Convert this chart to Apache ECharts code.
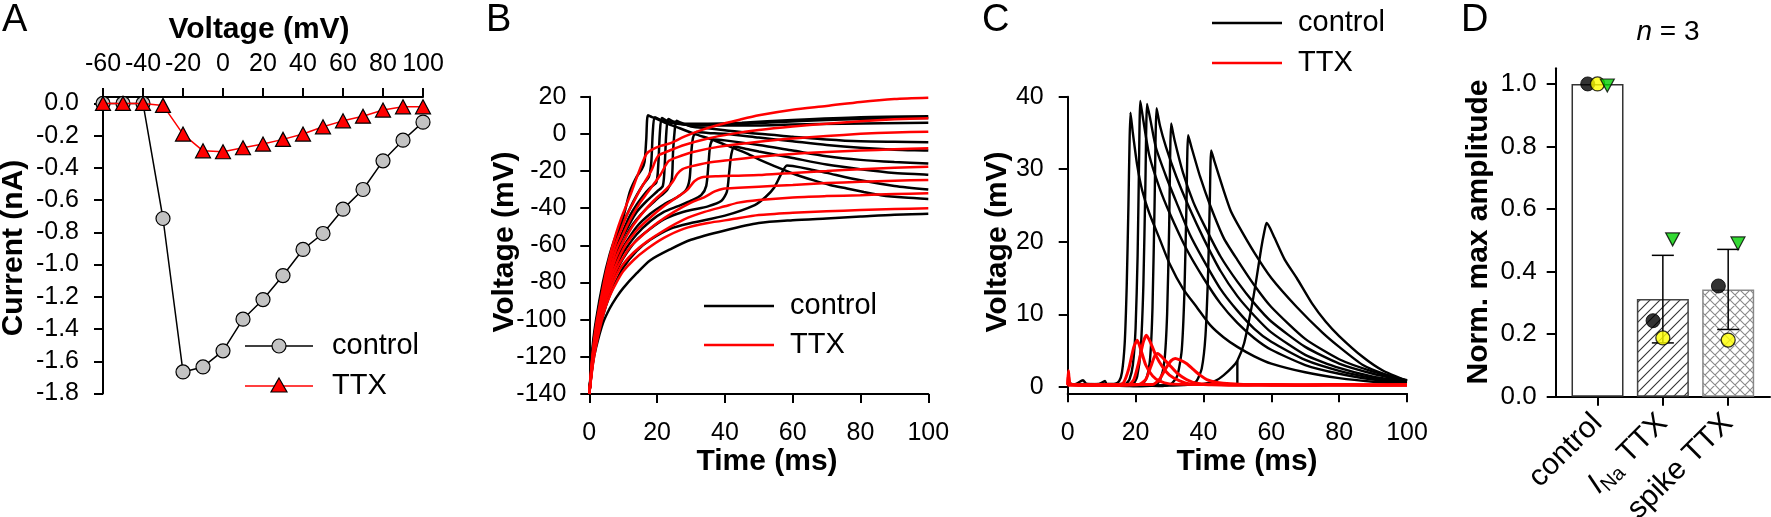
<!DOCTYPE html>
<html><head><meta charset="utf-8">
<script src="https://cdn.jsdelivr.net/npm/echarts@6/dist/echarts.min.js"></script>
<style>html,body{margin:0;padding:0;background:#fff}#c{width:1771px;height:517px}</style>
</head><body><div id="c"></div>
<script>
// ---------- Panel A data ----------
const aVoltage = [-60,-50,-40,-30,-20,-10,0,10,20,30,40,50,60,70,80,90,100];
const aControl = [0,0,0,-0.714,-1.666,-1.635,-1.535,-1.339,-1.217,-1.068,-0.906,-0.807,-0.656,-0.534,-0.356,-0.228,-0.116];
const aTTX = [0,0,0,-0.012,-0.19,-0.294,-0.30,-0.275,-0.252,-0.223,-0.19,-0.145,-0.108,-0.079,-0.041,-0.021,-0.021];
const aYTicks = [0,-0.2,-0.4,-0.6,-0.8,-1.0,-1.2,-1.4,-1.6,-1.8];

// ---------- Panel B data (time ms, voltage mV) ----------
const bControl = [
 [[0,-140],[1,-114],[2,-100],[4,-80],[6,-65],[8,-54],[10,-45],[12,-31],[14,-23],[15.5,-19],[16.3,-15],[16.8,-3],[17.3,10],[18.5,9],[20,8],[23,5.5],[26.7,3],[31,0],[36.6,-3.3],[41,-6.5],[46.4,-10.5],[51,-14.5],[56.3,-18.6],[61,-22],[66,-24.9],[71,-27.5],[76,-29.4],[81,-31.3],[86,-33],[93,-34.3],[100,-35]],
 [[0,-140],[1,-116],[2,-102],[4,-82],[6,-68],[8,-57],[10,-48],[12,-40],[14,-33],[16,-27],[17.6,-23],[18.3,-15],[18.7,0],[19.3,9],[21,7.5],[24,6],[28,5.5],[35,5.5],[45,6],[60,7.5],[80,9],[100,9.5]],
 [[0,-140],[1,-117],[2,-104],[4,-84],[6,-71],[8,-61],[10,-52],[12,-44],[14,-38],[16,-33],[18,-29],[19.8,-26],[20.4,-15],[20.8,0],[21.4,8.5],[23,7],[26,5.5],[30,5],[40,5],[55,6.3],[70,7.5],[85,8.2],[100,8.5]],
 [[0,-140],[1,-118],[2,-106],[4,-86],[6,-73],[8,-63],[10,-55],[12,-48],[14,-42],[17,-36],[20,-31],[21.7,-28],[22.3,-15],[22.7,0],[23.3,8],[25,6.5],[28,5],[32,4.5],[45,4.5],[60,5],[75,5.5],[100,6]],
 [[0,-140],[1,-119],[2,-107],[4,-88],[6,-75],[8,-65],[10,-58],[12,-51],[14,-46],[17,-40],[20,-35],[23,-30],[24.3,-25],[24.7,-10],[25.1,0],[25.7,7],[27,6],[30,4],[35,3],[40,2],[50,0],[60,-1.5],[70,-3],[80,-4],[90,-4.3],[100,-4.5]],
 [[0,-140],[1,-120],[2,-109],[4,-90],[6,-78],[8,-68],[10,-61],[14,-50],[18,-43],[22,-38],[26,-34],[28.6,-30],[29.6,-24],[30.1,-10],[30.6,-2],[31.6,1],[35,0.5],[40,0],[50,-2],[60,-4],[70,-6],[80,-7.5],[90,-8.5],[100,-9]],
 [[0,-140],[1,-121],[2,-110],[4,-92],[6,-80],[8,-71],[10,-64],[14,-54],[18,-47],[22,-42],[26,-39],[30,-36],[33,-33],[34.5,-28],[35.2,-15],[35.7,-6],[36.6,-3],[40,-3.5],[50,-6],[60,-9],[70,-12],[80,-14],[90,-15.2],[100,-16]],
 [[0,-140],[1,-122],[2,-111],[4,-95],[6,-83],[8,-74],[10,-67],[14,-57],[18,-51],[22,-46],[26,-43],[30,-41],[35,-39],[39,-36],[40.6,-31],[41.3,-20],[41.9,-11],[42.8,-7],[46,-8],[50,-9.5],[60,-13],[70,-16.5],[80,-19],[90,-21],[100,-22]],
 [[0,-140],[1,-123],[2,-113],[4,-98],[6,-87],[8,-79],[10,-72],[14,-63],[18,-57],[24,-51],[30,-48],[40,-44],[48.8,-38.3],[52,-34],[54.5,-29],[56.5,-22],[58.3,-17],[60,-17.3],[65,-19],[70,-21],[80,-25],[90,-28],[100,-30]],
 [[0,-140],[1,-124],[2,-115],[4,-102],[6,-94],[8,-88],[10,-83],[14,-75],[18,-68],[24,-62],[30,-57],[40,-52],[50,-48],[60,-46.5],[70,-45.5],[80,-44.5],[90,-43.5],[100,-43]]
];
const bTTX = [
 [[0,-140],[1,-118],[2,-103],[3.6,-87],[5,-74],[6.6,-62],[8,-53],[9.5,-45],[11,-38],[12.5,-31],[14.5,-21],[16,-14],[17,-10.5],[18.5,-8.5],[21,-6.5],[24,-5],[28,-1.5],[33,2],[38,4.8],[44,7.5],[50,10],[60,13],[70,15],[80,17.2],[90,18.8],[100,19.5]],
 [[0,-140],[1,-119],[2,-105],[3.6,-89],[5,-77],[6.6,-66],[8,-58],[9.5,-51],[11,-44],[13,-37],[15,-30],[17,-24],[18.5,-19],[19.5,-14.5],[20.5,-11.5],[23,-9.5],[28,-6],[35,-2.5],[42,0],[50,2.1],[60,4],[70,5.5],[80,6.8],[90,7.8],[100,8.4]],
 [[0,-140],[1,-120],[2,-107],[3.6,-91],[5,-80],[6.6,-70],[8,-62],[9.5,-56],[11,-50],[13,-43],[15,-37],[17,-32],[19,-27],[21,-22],[22.5,-17],[23.5,-14.5],[26,-12.5],[30,-10],[38,-7],[50,-4.2],[60,-2.5],[70,-1.2],[80,0],[90,0.8],[100,1.2]],
 [[0,-140],[1,-121],[2,-108],[3.6,-93],[5,-82],[6.6,-73],[8,-66],[9.5,-60],[11,-55],[13,-49],[16,-42],[19,-36],[22,-31],[24.5,-26],[26,-21.5],[27.5,-19],[30,-17.5],[35,-15.5],[42,-14],[50,-12.3],[60,-10.8],[70,-9.8],[80,-9],[90,-8.3],[100,-7.8]],
 [[0,-140],[1,-122],[2,-110],[3.6,-95],[5,-85],[6.6,-76],[8,-70],[9.5,-64],[11,-59],[14,-52],[18,-45],[22,-39],[26,-34],[29,-30],[31,-25.5],[33,-23.5],[38,-22.8],[44,-22.5],[50,-22.2],[60,-21],[70,-20],[80,-19],[90,-18.2],[100,-17.7]],
 [[0,-140],[1,-123],[2,-111],[3.6,-97],[5,-87],[6.6,-79],[8,-73],[9.5,-68],[12,-61],[16,-54],[20,-48],[25,-42],[30,-37],[34,-34],[37,-31],[39.5,-29.5],[44,-29],[50,-28.4],[60,-27.5],[70,-26.5],[80,-25.8],[90,-25.2],[100,-24.8]],
 [[0,-140],[1,-124],[2,-112],[3.6,-99],[5,-89],[6.6,-82],[8,-76],[10,-70],[13,-64],[17,-58],[22,-52],[28,-46],[34,-42],[40,-39],[44,-37],[50,-35.6],[60,-34.2],[70,-33.5],[80,-33],[90,-32.4],[100,-32]],
 [[0,-140],[1,-125],[2,-114],[3.6,-101],[5,-92],[6.6,-85],[8,-80],[10,-74],[13,-68],[17,-62],[22,-56],[28,-51],[35,-48],[42,-46],[50,-43.7],[60,-42.5],[70,-41.7],[80,-41],[90,-40.5],[100,-40.1]]
];

// ---------- Panel C data ----------
const cControl = [
 [[0,0.5],[2,0.3],[4.5,0.9],[5.5,0.4],[9,0.3],[11,0.8],[11.5,0.3],[14,0.4],[15.2,0.8],[16,2],[16.8,6],[17.4,14],[17.9,25],[18.2,33],[18.5,37.8],[19.2,35],[20.5,30.5],[22,27],[24,24],[27,20.5],[30,17],[34,13.5],[38,11],[42,8.5],[46,6.8],[50,5.5],[55,4.2],[60,3.2],[70,2],[80,1.2],[90,0.7],[100,0.4]],
 [[0,0.3],[3,0.4],[7,0.2],[12,0.4],[17,0.4],[18.2,1],[19.2,3],[20,8],[20.6,18],[21,30],[21.4,39.4],[22.2,37],[24,32],[27,27.5],[30,24],[35,19],[40,15],[45,11.5],[50,8.8],[55,6.7],[60,5.1],[70,3],[80,1.8],[90,1],[100,0.5]],
 [[0,0.4],[5,0.3],[10,0.4],[15,0.3],[19.5,0.5],[20.5,1.5],[21.5,5],[22.3,14],[22.9,28],[23.4,39],[24.3,37],[26,33],[29,29],[32,25.5],[36,21],[40,17.5],[45,13.5],[50,10.5],[55,8],[60,6.2],[70,3.7],[80,2.2],[90,1.2],[100,0.6]],
 [[0,0.3],[6,0.4],[12,0.3],[18,0.3],[22,0.4],[23.3,1.3],[24.3,4],[25,11],[25.6,25],[26.2,38.4],[27.2,36],[29,33],[32,29],[36,24.5],[40,20.5],[45,16],[50,12.5],[55,9.8],[60,7.5],[70,4.4],[80,2.6],[90,1.4],[100,0.7]],
 [[0,0.4],[8,0.3],[15,0.3],[22,0.2],[26,0.3],[27.3,1],[28.5,3.5],[29.3,10],[29.9,22],[30.5,36.3],[31.5,34],[34,29.5],[37,25.5],[40,22.5],[45,18],[50,14.5],[55,11.5],[60,9],[70,5.5],[80,3.2],[90,1.8],[100,0.8]],
 [[0,0.3],[10,0.4],[20,0.2],[28,0.1],[30.5,0.4],[32.3,1.5],[33.6,5],[34.4,13],[35,25],[35.5,34.7],[36.5,33],[39,29],[42,25],[46,20.5],[50,17.5],[55,14],[60,11],[70,6.6],[80,3.8],[90,2.1],[100,0.9]],
 [[0,0.3],[10,0.3],[20,0.1],[30,0.2],[36,0.3],[38,0.8],[39.5,2.5],[40.6,7],[41.4,16],[41.9,26],[42.3,32.6],[43.3,31],[46,27],[48,24.3],[50,22.5],[55,18.5],[60,15],[67.5,11],[75,7.5],[80,5.5],[87,3],[93,1.8],[100,0.8]],
 [[0,0.3],[10,0.2],[20,0.1],[30,0.2],[40,0.4],[43.5,0.8],[46,1.6],[48.5,2.7],[50,3.6],[52,6],[54,10.5],[55.5,14.5],[57,19],[58,21.5],[58.6,22.6],[59.5,22],[61,20.5],[64,17.5],[67.5,15],[72,11.5],[76,9],[80,7],[87,4.1],[93,2.2],[100,0.8]],
 [[50,0.2],[50,3.6]]
];
const cTTX = [
 [[0,0.3],[0.2,2.2],[0.8,0.4],[5,0.2],[10,0.3],[15,0.2],[16.5,0.6],[18,2.5],[19.5,5.5],[20.5,6.4],[21.5,5.2],[23,3],[25,1.5],[27,0.8],[30,0.4],[40,0.3],[50,0.2],[60,0.3],[70,0.2],[80,0.3],[90,0.2],[100,0.3]],
 [[0,0.2],[0.2,1.6],[0.8,0.3],[10,0.2],[18,0.3],[19.5,1],[21,3.5],[22.3,6.2],[23.2,7.1],[24.5,6],[26,4.3],[28,2.7],[30,1.6],[33,0.8],[36,0.4],[45,0.3],[60,0.2],[80,0.3],[100,0.2]],
 [[0,0.3],[10,0.2],[21,0.3],[23,1],[24.5,2.8],[25.7,4.3],[26.5,4.6],[28,4],[30,3],[32,2],[35,1],[38,0.5],[45,0.3],[60,0.3],[80,0.2],[100,0.3]],
 [[0,0.2],[10,0.3],[25,0.3],[27,1],[29,2.6],[30.5,3.6],[31.7,3.9],[33,3.7],[35,3.2],[37,2.4],[39,1.6],[41,1],[44,0.6],[48,0.4],[60,0.2],[80,0.3],[100,0.2]]
];
const cYTicks = [0,10,20,30,40];

// ---------- Panel D data ----------
const dCategories = ['control','{it|I}{sub|Na} TTX','spike TTX'];
const dMeans = [1.0, 0.312, 0.343];
const dSD = [0, 0.14, 0.128];
const dBlack = [1.0, 0.243, 0.354];
const dYellow = [1.0, 0.188, 0.181];
const dGreen = [0.995, 0.503, 0.49];
const dYTicks = [0,0.2,0.4,0.6,0.8,1.0];

// ---------- helpers ----------
const FONT = '"Liberation Sans", Arial, Helvetica, sans-serif';
function merge(a,b){const o=Array.isArray(a)?a.slice():Object.assign({},a);for(const k in b){if(b[k]&&typeof b[k]==='object'&&!Array.isArray(b[k])&&a[k]&&typeof a[k]==='object'&&!Array.isArray(a[k]))o[k]=merge(a[k],b[k]);else o[k]=b[k];}return o;}
function axis(opts){
  return merge({
    type:'value',
    axisLine:{show:true,onZero:false,lineStyle:{color:'#000',width:2}},
    axisTick:{show:true,inside:false,length:9,lineStyle:{color:'#000',width:2}},
    axisLabel:{color:'#000',fontSize:25,fontFamily:FONT,margin:22,hideOverlap:false},
    splitLine:{show:false}
  },opts);
}
function hatch(cross){
  const c=document.createElement('canvas');c.width=10;c.height=10;
  const g=c.getContext('2d');g.fillStyle='#fff';g.fillRect(0,0,10,10);
  g.strokeStyle=cross?'#8a8a8a':'#333';g.lineWidth=1.1;g.beginPath();
  g.moveTo(-2,12);g.lineTo(12,-2);g.moveTo(-7,7);g.lineTo(7,-7);g.moveTo(3,17);g.lineTo(17,3);
  if(cross){g.moveTo(-2,-2);g.lineTo(12,12);g.moveTo(-7,3);g.lineTo(7,17);g.moveTo(3,-7);g.lineTo(17,7);}
  g.stroke();return c;
}
const jitter = 0.15;

const chart = echarts.init(document.getElementById('c'), null, {renderer:'canvas'});

const series = [];
// Panel A
series.push({type:'line',xAxisIndex:0,yAxisIndex:0,data:aVoltage.map((v,i)=>[v,aControl[i]]),clip:false,
  symbol:'circle',symbolSize:14,itemStyle:{color:'#c3c3c3',borderColor:'#000',borderWidth:1.2},
  lineStyle:{color:'#000',width:1.5},z:3});
series.push({type:'line',xAxisIndex:0,yAxisIndex:0,data:aVoltage.map((v,i)=>[v,aTTX[i]]),clip:false,
  symbol:'triangle',symbolSize:[15,14],itemStyle:{color:'#ff0000',borderColor:'#000',borderWidth:1.2},
  lineStyle:{color:'#ff0000',width:1.5},z:4});
// Panel B
bControl.forEach(d=>series.push({type:'line',xAxisIndex:1,yAxisIndex:1,data:d,showSymbol:false,smooth:0.25,
  lineStyle:{color:'#000',width:2.5},z:2}));
bTTX.forEach(d=>series.push({type:'line',xAxisIndex:1,yAxisIndex:1,data:d,showSymbol:false,smooth:0.25,
  lineStyle:{color:'#ff0000',width:2.5},z:3}));
// Panel C
cControl.forEach(d=>series.push({type:'line',xAxisIndex:2,yAxisIndex:2,data:d,showSymbol:false,smooth:0.2,
  lineStyle:{color:'#000',width:2.4},z:2}));
cTTX.forEach(d=>series.push({type:'line',xAxisIndex:2,yAxisIndex:2,data:d,showSymbol:false,smooth:0.2,
  lineStyle:{color:'#ff0000',width:3},z:3}));
// Panel D
const barStyles=[
  {color:'#fff',borderColor:'#333',borderWidth:1.5},
  {color:{image:hatch(false),repeat:'repeat'},borderColor:'#444',borderWidth:1.5},
  {color:{image:hatch(true),repeat:'repeat'},borderColor:'#888',borderWidth:1.5}
];
series.push({type:'bar',xAxisIndex:3,yAxisIndex:3,barWidth:52,
  data:dMeans.map((m,i)=>({value:[i,m],itemStyle:barStyles[i]})),z:2});
series.push({type:'custom',xAxisIndex:3,yAxisIndex:3,z:3,
  data:dMeans.map((m,i)=>[i,m-dSD[i],m+dSD[i]]).filter((d,i)=>dSD[i]>0),
  encode:{x:0,y:[1,2]},
  renderItem:(p,api)=>{const x=api.value(0);const t=api.coord([x,api.value(2)]);const b=api.coord([x,api.value(1)]);
    const hw=11,st={stroke:'#000',lineWidth:1.5};
    return {type:'group',children:[
      {type:'line',shape:{x1:t[0],y1:t[1],x2:b[0],y2:b[1]},style:st},
      {type:'line',shape:{x1:t[0]-hw,y1:t[1],x2:t[0]+hw,y2:t[1]},style:st},
      {type:'line',shape:{x1:b[0]-hw,y1:b[1],x2:b[0]+hw,y2:b[1]},style:st}]};}});
series.push({type:'scatter',xAxisIndex:3,yAxisIndex:3,z:4,symbol:'circle',symbolSize:14,
  data:dBlack.map((v,i)=>[i-jitter,v]),itemStyle:{color:'#000',borderColor:'#000',borderWidth:1}});
series.push({type:'scatter',xAxisIndex:3,yAxisIndex:3,z:5,symbol:'circle',symbolSize:14,
  data:dYellow.map((v,i)=>[i,v]),itemStyle:{color:'#ffff00',borderColor:'#000',borderWidth:1.3}});
series.push({type:'scatter',xAxisIndex:3,yAxisIndex:3,z:6,symbol:'triangle',symbolRotate:180,symbolSize:[14,13],
  data:dGreen.map((v,i)=>[i+jitter,v]),itemStyle:{color:'#00d000',borderColor:'#000',borderWidth:1.2}});

function txt(x,y,text,size,opt){
  return merge({type:'text',x:x,y:y,silent:true,style:{text:text,fontSize:size,fontFamily:FONT,fill:'#000',align:'center',verticalAlign:'middle'}},opt||{});
}
function vtxt(x,y,text){return txt(x,y,text,30,{rotation:Math.PI/2,style:{fontWeight:'bold'}});}
function line(x1,y1,x2,y2,color,w){return {type:'line',silent:true,shape:{x1,y1,x2,y2},style:{stroke:color,lineWidth:w}};}

const graphic=[
  txt(2,21,'A',38,{style:{align:'left'}}),
  txt(486,21,'B',38,{style:{align:'left'}}),
  txt(982,21,'C',38,{style:{align:'left'}}),
  txt(1461,21,'D',38,{style:{align:'left'}}),
  txt(259,30,'Voltage (mV)',30,{style:{fontWeight:'bold'}}),
  vtxt(14,248,'Current (nA)'),
  vtxt(505,242,'Voltage (mV)'),
  txt(767,462,'Time (ms)',30,{style:{fontWeight:'bold'}}),
  vtxt(998,242,'Voltage (mV)'),
  txt(1247,462,'Time (ms)',30,{style:{fontWeight:'bold'}}),
  vtxt(1479,232,'Norm. max amplitude'),
  {type:'text',x:1668,y:32,silent:true,style:{text:'{i|n} = 3',fontSize:28,fontFamily:FONT,fill:'#000',align:'center',verticalAlign:'middle',
     rich:{i:{fontStyle:'italic',fontSize:28,fontFamily:FONT}}}},
  // legend A
  line(245,346,313,346,'#000',1.5),
  {type:'circle',silent:true,shape:{cx:279,cy:346,r:7},style:{fill:'#c3c3c3',stroke:'#000',lineWidth:1.2},z:10},
  txt(332,346,'control',29,{style:{align:'left'}}),
  line(245,386,313,386,'#ff0000',1.5),
  {type:'polygon',silent:true,shape:{points:[[279,378],[287,392],[271,392]]},style:{fill:'#ff0000',stroke:'#000',lineWidth:1.2},z:10},
  txt(332,386,'TTX',29,{style:{align:'left'}}),
  // legend B
  line(704,306,774,306,'#000',2.4),
  txt(790,306,'control',29,{style:{align:'left'}}),
  line(704,345,774,345,'#ff0000',2.4),
  txt(790,345,'TTX',29,{style:{align:'left'}}),
  // legend C
  line(1212,23,1282,23,'#000',2.4),
  txt(1298,23,'control',29,{style:{align:'left'}}),
  line(1212,63,1282,63,'#ff0000',2.4),
  txt(1298,63,'TTX',29,{style:{align:'left'}})
];

const option={
  animation:false,
  backgroundColor:'#fff',
  textStyle:{fontFamily:FONT},
  grid:[
    {left:103,top:97,width:320,height:296.5,outerBoundsMode:'none',containLabel:false},
    {left:589.3,top:96.7,width:339,height:297.3,outerBoundsMode:'none',containLabel:false},
    {left:1067.7,top:96.7,width:339.3,height:296.6,outerBoundsMode:'none',containLabel:false},
    {left:1555.7,top:68.3,width:214.3,height:328.4,outerBoundsMode:'none',containLabel:false}
  ],
  xAxis:[
    axis({gridIndex:0,position:'top',min:-60,max:100,interval:20,axisLabel:{margin:20}}),
    axis({gridIndex:1,min:0,max:100,interval:20,axisLabel:{margin:27}}),
    axis({gridIndex:2,min:0,max:100,interval:20,axisLabel:{margin:27}}),
    axis({gridIndex:3,min:-0.64,max:2.64,
      axisTick:{customValues:[0,1,2]},
      axisLabel:{customValues:[0,1,2],rotate:45,margin:22,fontSize:30,formatter:v=>dCategories[Math.round(v)],
        rich:{it:{fontStyle:'italic',fontSize:30,fontFamily:FONT},sub:{fontSize:20,fontFamily:FONT,verticalAlign:'bottom',padding:[16,0,0,0]}}}})
  ],
  yAxis:[
    axis({gridIndex:0,min:-1.8,max:0.04,axisTick:{customValues:aYTicks},axisLabel:{customValues:aYTicks,margin:24,formatter:v=>v.toFixed(1)}}),
    axis({gridIndex:1,min:-140,max:20,interval:20,axisLabel:{margin:23}}),
    axis({gridIndex:2,min:-0.9,max:40,axisTick:{customValues:cYTicks},axisLabel:{customValues:cYTicks,margin:24}}),
    axis({gridIndex:3,min:0,max:1.05,axisTick:{customValues:dYTicks},axisLabel:{customValues:dYTicks,margin:19,fontSize:26,formatter:v=>v.toFixed(1)}})
  ],
  series:series,
  graphic:graphic
};
chart.setOption(option);
</script>
</body></html>
